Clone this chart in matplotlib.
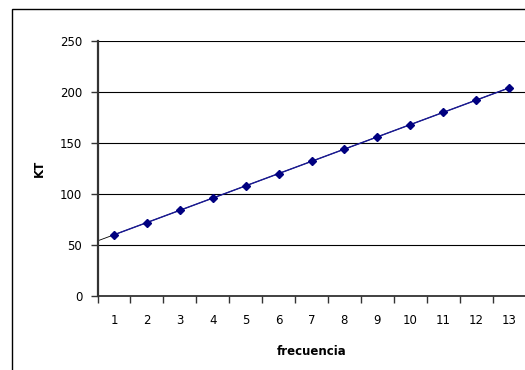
import matplotlib.pyplot as plt
from matplotlib.patches import Rectangle
import numpy as np

# KT measured at each frequency step
frecuencia = [1, 2, 3, 4, 5, 6, 7, 8, 9, 10, 11, 12, 13]
kt = [60, 72, 84, 96, 108, 120, 132, 144, 156, 168, 180, 192, 204]
y_ticks = [0, 50, 100, 150, 200, 250]

plt.rcParams['font.family'] = 'DejaVu Sans'

fig = plt.figure(figsize=(5.25, 3.7), dpi=100)
fig.patch.set_facecolor('white')

# chart frame (only the top and left edges fall inside the image)
fig.patches.append(Rectangle((12 / 525, -0.1), 1.2, 361 / 370 + 0.1,
                             transform=fig.transFigure, fill=False,
                             edgecolor='black', linewidth=1.0))

ax = fig.add_axes([97.5 / 525, 74 / 370, 428 / 525, 255 / 370])

# linear trendline, extended half a step backwards
coef = np.polyfit(frecuencia, kt, 1)
xt = np.array([0.5, frecuencia[-1]])
ax.plot(xt, np.polyval(coef, xt), color='black', linewidth=0.6, zorder=2)

ax.plot(frecuencia, kt, color='#1a1a99', linewidth=1.0, marker='D',
        markersize=4.5, markerfacecolor='#000080', markeredgecolor='#000080',
        zorder=3)

ax.set_xlim(0.5, 13.5)
ax.set_ylim(0, 250)

# category ticks sit between categories, labels at the centres
ax.set_xticks(np.arange(0.5, 14, 1))
ax.set_xticklabels([])
ax.set_xticks(frecuencia, minor=True)
ax.set_xticklabels([str(f) for f in frecuencia], minor=True)
ax.tick_params(axis='x', which='major', direction='out', length=5,
               width=1, color='#333333')
ax.tick_params(axis='x', which='minor', length=0, pad=13, labelsize=8.5)

ax.set_yticks(y_ticks)
ax.tick_params(axis='y', direction='out', length=5, width=1,
               color='#333333', labelsize=8.5, pad=6)

ax.yaxis.grid(True, color='black', linewidth=0.8)
ax.set_axisbelow(True)

for side in ['top', 'right']:
    ax.spines[side].set_visible(False)
ax.spines['left'].set_color('#333333')
ax.spines['left'].set_linewidth(1.6)
ax.spines['bottom'].set_color('#333333')
ax.spines['bottom'].set_linewidth(1.3)

ax.set_ylabel('KT', fontsize=8.5, fontweight='bold', labelpad=10)
ax.set_xlabel('frecuencia', fontsize=8.5, fontweight='bold', labelpad=13)

fig.savefig('out.png', dpi=100)
